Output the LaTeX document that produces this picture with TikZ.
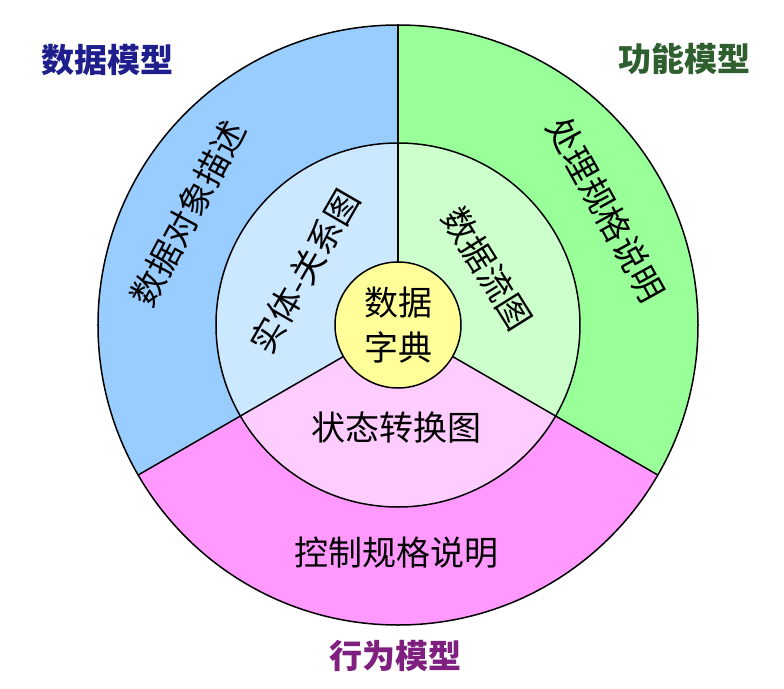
\documentclass[tikz,border=0pt]{standalone}
\usepackage{fontspec}
\setmainfont{Noto Sans CJK SC}
\definecolor{outblue}{HTML}{99CCFF}
\definecolor{inblue}{HTML}{CCE8FF}
\definecolor{outgreen}{HTML}{99FF99}
\definecolor{ingreen}{HTML}{CCFFCC}
\definecolor{outpink}{HTML}{FF99FF}
\definecolor{inpink}{HTML}{FFCCFF}
\definecolor{dictyellow}{HTML}{FFFF99}
\definecolor{navylab}{HTML}{1E1E8C}
\definecolor{greenlab}{HTML}{2F5F2F}
\definecolor{purplab}{HTML}{7F1F7F}
\begin{document}
\begin{tikzpicture}[x=1pt,y=1pt,
  ringtxt/.style={font=\fontsize{34}{45}\selectfont, text=black, inner sep=0pt},
  modellabel/.style={font=\fontsize{33}{38}\selectfont\bfseries, inner sep=0pt},
  edgeline/.style={draw=black, line width=1.5pt}]
\useasboundingbox (-398,-363) rectangle (386,325);
\def\Ro{300}
\def\Rm{182}
\def\Ri{63}
% outer sectors
\fill[outblue] (0,0) -- (90:\Ro) arc[start angle=90, end angle=210, radius=\Ro] -- cycle;
\fill[outgreen] (0,0) -- (-30:\Ro) arc[start angle=-30, end angle=90, radius=\Ro] -- cycle;
\fill[outpink] (0,0) -- (210:\Ro) arc[start angle=210, end angle=330, radius=\Ro] -- cycle;
% middle sectors
\fill[inblue] (0,0) -- (90:\Rm) arc[start angle=90, end angle=210, radius=\Rm] -- cycle;
\fill[ingreen] (0,0) -- (-30:\Rm) arc[start angle=-30, end angle=90, radius=\Rm] -- cycle;
\fill[inpink] (0,0) -- (210:\Rm) arc[start angle=210, end angle=330, radius=\Rm] -- cycle;
% boundaries
\draw[edgeline] (0,0) circle[radius=\Ro];
\draw[edgeline] (0,0) circle[radius=\Rm];
\draw[edgeline] (90:\Ri) -- (90:\Ro);
\draw[edgeline] (210:\Ri) -- (210:\Ro);
\draw[edgeline] (330:\Ri) -- (330:\Ro);
% centre
\node[circle, draw=black, line width=1.5pt, fill=dictyellow, minimum size=126pt,
      ringtxt, align=center] (dict) at (0,0) {数据\\字典};
% ring texts
\node[ringtxt, rotate=62] (objdesc) at (152:238) {数据对象描述};
\node[ringtxt, rotate=-61] (procspec) at (29:238) {处理规格说明};
\node[ringtxt, rotate=60] (erd) at (150:108) {实体-关系图};
\node[ringtxt, rotate=-58] (dfd) at (32:106) {数据流图};
\node[ringtxt] (std) at (-1,-103) {状态转换图};
\node[ringtxt] (ctrlspec) at (-1,-228) {控制规格说明};
% model labels
\node[modellabel, text=navylab] (datamodel) at (-290,265) {数据模型};
\node[modellabel, text=greenlab] (funcmodel) at (286,266) {功能模型};
\node[modellabel, text=purplab] (behmodel) at (-2,-331) {行为模型};
\end{tikzpicture}
\end{document}
